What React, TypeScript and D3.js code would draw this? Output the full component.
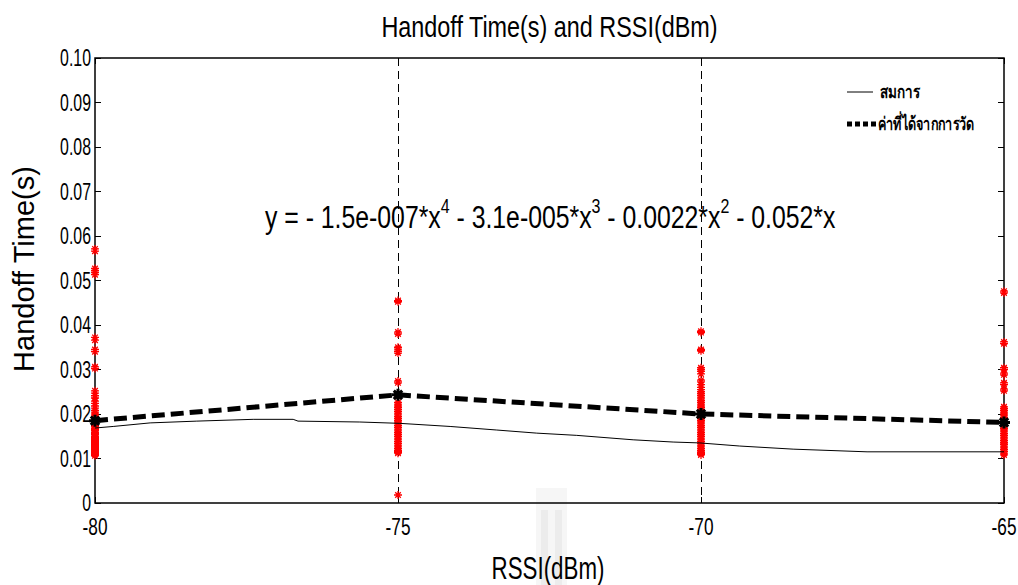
import React from "react";
import * as d3 from "d3";

const xTicks = [-80, -75, -70, -65];
const yTicks = [0, 0.01, 0.02, 0.03, 0.04, 0.05, 0.06, 0.07, 0.08, 0.09, 0.1];
const gridX = [-75, -70];

// fitted-equation curve (สมการ)
const curveRssi = [-80, -79.7, -79.09, -78.32, -77.39, -76.73, -76.65, -75.63, -74.97, -74.14, -73.37, -72.71, -72.05, -71.12, -70.46, -70.02, -69.36, -68.48, -67.26, -65];
const curveTime = [0.01685, 0.0172, 0.018, 0.0184, 0.0188, 0.0188, 0.0184, 0.0182, 0.0179, 0.0172, 0.0164, 0.0157, 0.0152, 0.0142, 0.0137, 0.0135, 0.0128, 0.0121, 0.0115, 0.0115];

// measured mean (ค่าที่ได้จากการวัด)
const meanRssi = [-80, -75, -70, -65];
const meanTime = [0.0185, 0.0243, 0.0200, 0.0181];

// raw measurements
const raw80 = [0.0571, 0.0566, 0.0527, 0.0522, 0.0518, 0.0513, 0.0372, 0.0366, 0.0345, 0.034, 0.0306, 0.0302, 0.0252, 0.0247, 0.0241, 0.0236, 0.0229, 0.0224, 0.0218, 0.0213, 0.0208, 0.0204, 0.02, 0.0196, 0.0193, 0.019, 0.0187, 0.0184, 0.0181, 0.0178, 0.0175, 0.0172, 0.0169, 0.0166, 0.0163, 0.016, 0.0157, 0.0154, 0.0151, 0.0148, 0.0145, 0.0142, 0.0139, 0.0136, 0.0133, 0.013, 0.0127, 0.0124, 0.0121, 0.0118, 0.0115, 0.0112, 0.0109, 0.0106];
const raw75 = [0.0455, 0.0452, 0.0384, 0.038, 0.035, 0.0346, 0.0341, 0.0337, 0.0274, 0.027, 0.0245, 0.024, 0.0226, 0.0222, 0.0218, 0.0214, 0.021, 0.0206, 0.0202, 0.0198, 0.0194, 0.019, 0.0186, 0.0182, 0.0178, 0.0174, 0.017, 0.0166, 0.0162, 0.0158, 0.0154, 0.015, 0.0146, 0.0142, 0.0138, 0.0134, 0.013, 0.0126, 0.0122, 0.0118, 0.0115, 0.0112, 0.0018];
const raw70 = [0.0386, 0.0383, 0.0345, 0.0342, 0.0304, 0.03, 0.0296, 0.029, 0.0276, 0.0272, 0.0266, 0.026, 0.0255, 0.025, 0.0246, 0.0242, 0.0238, 0.0234, 0.023, 0.0226, 0.0222, 0.0218, 0.0214, 0.021, 0.0206, 0.0202, 0.0198, 0.0194, 0.019, 0.0186, 0.0182, 0.0178, 0.0174, 0.017, 0.0166, 0.0162, 0.0158, 0.0154, 0.015, 0.0146, 0.0142, 0.0138, 0.0134, 0.013, 0.0126, 0.0122, 0.0118, 0.0114, 0.0111, 0.0108];
const raw65 = [0.0476, 0.0472, 0.0362, 0.0358, 0.0304, 0.03, 0.0292, 0.0288, 0.027, 0.0266, 0.0256, 0.0252, 0.0216, 0.0212, 0.0208, 0.0204, 0.02, 0.0196, 0.0192, 0.0188, 0.0184, 0.018, 0.0176, 0.0172, 0.0168, 0.0164, 0.016, 0.0156, 0.0152, 0.0148, 0.0144, 0.014, 0.0136, 0.0132, 0.0128, 0.0124, 0.012, 0.0116, 0.0112, 0.0108];
const rawGroups: [number, number[]][] = [[-80, raw80], [-75, raw75], [-70, raw70], [-65, raw65]];

const title = "Handoff Time(s) and RSSI(dBm)";
const xLabel = "RSSI(dBm)";
const yLabel = "Handoff Time(s)";
const legendLabels = ["สมการ", "ค่าที่ได้จากการวัด"];

const SANS = "'Liberation Sans', Arial, sans-serif";
const THAI = "Tahoma, 'Noto Sans', 'DejaVu Sans', sans-serif";

function star(cx: number, cy: number, r: number) {
  const d = r * 0.7;
  return `M${cx - r},${cy}L${cx + r},${cy}M${cx},${cy - r}L${cx},${cy + r}M${cx - d},${cy - d}L${cx + d},${cy + d}M${cx - d},${cy + d}L${cx + d},${cy - d}`;
}

function NT(props: { x: number; y: number; s: number; size: number; anchor?: string; font?: string; weight?: string; children: React.ReactNode }) {
  const { x, y, s, size, anchor, font, weight, children } = props;
  return (
    <text transform={`translate(${x},${y}) scale(${s},1)`} textAnchor={anchor || "start"} fontFamily={font || SANS} fontWeight={weight || "normal"} fontSize={size} fill="#000">
      {children}
    </text>
  );
}

export default function App() {
  const W = 1018, H = 585;
  const L = 95, R = 1004, T = 58, B = 503;
  const x = d3.scaleLinear().domain([-80, -65]).range([L, R]);
  const y = d3.scaleLinear().domain([0, 0.1]).range([B, T]);
  const line = d3.line<number>().x((_, i) => x(curveRssi[i])).y((v) => y(v));
  const mLine = d3.line<number>().x((_, i) => x(meanRssi[i])).y((v) => y(v));
  const tk = 6;
  return (
    <svg width={W} height={H} style={{ position: "absolute", left: 0, top: 0, background: "#fff" }}>
      <rect x={0} y={0} width={W} height={H} fill="#fff" />
      {/* watermark */}
      <g>
        <rect x={536} y={488} width={31} height={97} fill="#f6f6f6" />
        <rect x={541} y={510} width={7} height={75} fill="#ececec" />
        <rect x={555} y={510} width={7} height={75} fill="#ececec" />
      </g>
      <NT x={(L + R) / 2} y={37} s={0.78} size={30} anchor="middle">{title}</NT>
      {/* grid dashed verticals */}
      {gridX.map((g) => (
        <line key={g} x1={x(g) + 0.5} x2={x(g) + 0.5} y1={T} y2={B} stroke="#000" strokeWidth={1} strokeDasharray="8,5" shapeRendering="crispEdges" />
      ))}
      {/* box */}
      <rect x={L} y={T} width={R - L} height={B - T} fill="none" stroke="#000" strokeWidth={1.5} />
      {/* ticks */}
      {yTicks.map((v) => (
        <g key={"y" + v}>
          <line x1={L} x2={L + tk} y1={y(v)} y2={y(v)} stroke="#000" shapeRendering="crispEdges" />
          <line x1={R} x2={R - tk} y1={y(v)} y2={y(v)} stroke="#000" shapeRendering="crispEdges" />
          <NT x={L - 4} y={y(v) + 8} s={0.69} size={23} anchor="end">{v === 0 ? "0" : v.toFixed(2)}</NT>
        </g>
      ))}
      {xTicks.map((v) => (
        <g key={"x" + v}>
          <line x1={x(v)} x2={x(v)} y1={B} y2={B - tk} stroke="#000" shapeRendering="crispEdges" />
          <line x1={x(v)} x2={x(v)} y1={T} y2={T + tk} stroke="#000" shapeRendering="crispEdges" />
          <NT x={x(v)} y={535} s={0.75} size={23} anchor="middle">{v}</NT>
        </g>
      ))}
      <NT x={548} y={579} s={0.72} size={31} anchor="middle">{xLabel}</NT>
      <text transform={`translate(34,${269}) rotate(-90)`} textAnchor="middle" fontFamily={SANS} fontSize={29}>{yLabel}</text>
      {/* equation */}
      <NT x={265} y={228} s={0.8} size={31}>
        <tspan>y = - 1.5e-007*x</tspan>
        <tspan fontSize={20} dy={-15}>4</tspan>
        <tspan dy={15}> - 3.1e-005*x</tspan>
        <tspan fontSize={20} dy={-15}>3</tspan>
        <tspan dy={15}> - 0.0022*x</tspan>
        <tspan fontSize={20} dy={-15}>2</tspan>
        <tspan dy={15}> - 0.052*x</tspan>
      </NT>
      {/* raw stars */}
      {rawGroups.map(([rx, vals]) => (
        <path key={"r" + rx} d={vals.map((v) => star(x(rx), y(v), 4)).join("")} stroke="#ff0000" strokeWidth={1.3} fill="none" />
      ))}
      {/* equation curve */}
      <path d={line(curveTime) || ""} fill="none" stroke="#000" strokeWidth={1} />
      {/* mean dashed */}
      <path d={mLine(meanTime) || ""} fill="none" stroke="#000" strokeWidth={5} strokeDasharray="13,6" />
      {meanTime.map((v, i) => (
        <path key={"m" + i} d={star(x(meanRssi[i]), y(v), 6)} stroke="#000" strokeWidth={3} fill="none" />
      ))}
      {/* legend */}
      <line x1={847} x2={873} y1={92} y2={92} stroke="#000" strokeWidth={1} />
      <NT x={880} y={98} s={0.75} size={18} font={THAI} weight="bold">{legendLabels[0]}</NT>
      <line x1={847} x2={876} y1={124} y2={124} stroke="#000" strokeWidth={5} strokeDasharray="5,3" />
      <NT x={878} y={130} s={0.7} size={18} font={THAI} weight="bold">{legendLabels[1]}</NT>
    </svg>
  );
}
